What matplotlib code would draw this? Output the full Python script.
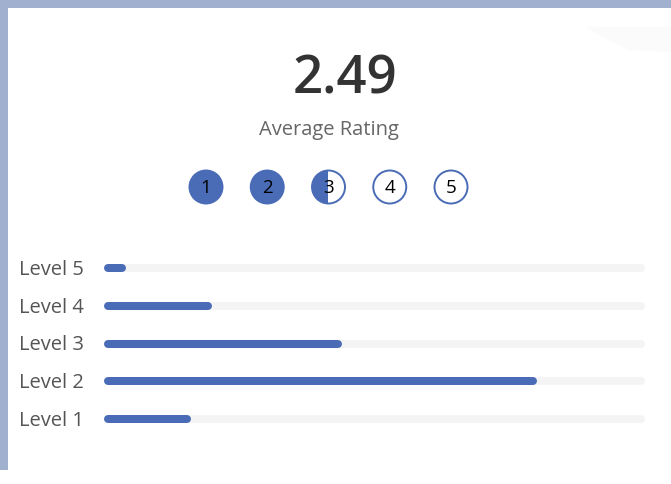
import matplotlib
matplotlib.use("Agg")
import matplotlib.pyplot as plt
from matplotlib.patches import Circle, Rectangle, Polygon
import matplotlib.transforms as mtransforms
import numpy as np

plt.rcParams['font.family'] = ['Open Sans', 'DejaVu Sans']

levels = [5, 4, 3, 2, 1]
labels = ["Level 5", "Level 4", "Level 3", "Level 2", "Level 1"]
counts = [1, 5, 11, 20, 4]
scale_max = 25
ratings = [1, 2, 3, 4, 5]

avg = sum(l * c for l, c in zip(levels, counts)) / sum(counts)

blue = "#4a6cb6"
track = "#f4f4f4"
frame = "#a2b0cf"

W, H = 671, 484
fig = plt.figure(figsize=(W / 100, H / 100), dpi=100)

# background / card in pixel coordinates
bg = fig.add_axes([0, 0, 1, 1])
bg.set_xlim(0, W)
bg.set_ylim(H, 0)
bg.axis("off")
bg.add_patch(Rectangle((0, 0), W, 8, fc=frame, ec="none"))
bg.add_patch(Rectangle((0, 0), 8, 470, fc=frame, ec="none"))
bg.add_patch(Polygon([[585, 27], [671, 27], [671, 52], [628, 50]], closed=True,
                     fc="#fbfbfb", ec="none"))

bg.text(345, 80, "%.2f" % avg, ha="center", va="center", fontsize=38,
        fontweight="semibold", color="#333333")
bg.text(329, 130, "Average Rating", ha="center", va="center", fontsize=14.5,
        color="#666666")

# rating circles
r = 16.5
for i, rt in enumerate(ratings):
    cx = 206 + i * 61.25
    cy = 187
    frac = min(max(avg - (rt - 1), 0), 1)
    outline = Circle((cx, cy), r, fc="white", ec=blue, lw=1.4, zorder=2)
    bg.add_patch(outline)
    if frac > 0:
        fill = Circle((cx, cy), r, fc=blue, ec="none", zorder=3)
        bg.add_patch(fill)
        clip = Rectangle((cx - r - 2, cy - r - 2), frac * 2 * r + 2, 2 * r + 4,
                         transform=bg.transData, fc="none", ec="none")
        fill.set_clip_path(clip)
    bg.text(cx, cy + 1, str(rt), ha="center", va="center", fontsize=13.5,
            fontweight="medium", color="black", zorder=4)

# bars
left_px, right_px = 104, 645
top_px, bot_px = 250, 437
ax = fig.add_axes([left_px / W, (H - bot_px) / H, (right_px - left_px) / W,
                   (bot_px - top_px) / H])
ax.set_xlim(0, scale_max)
ax.set_ylim(1 - 18 / 37.75, 5 + 18 / 37.75)
ax.axis("off")

lw_pt = 8 * 72 / 100
cap = 4 / (right_px - left_px) * scale_max
ax.hlines(levels, cap, scale_max - cap, color=track, lw=lw_pt, capstyle="round")
for lv, c in zip(levels, counts):
    ax.plot([cap, c - cap], [lv, lv], color=blue, lw=lw_pt,
            solid_capstyle="round")

trans = mtransforms.blended_transform_factory(fig.transFigure, ax.transData)
for lv, lab in zip(levels, labels):
    ax.text(19 / W, lv - 0.05, lab, transform=trans, ha="left", va="center",
            fontsize=14.5, color="#555555")

fig.savefig("out.png", dpi=100)
